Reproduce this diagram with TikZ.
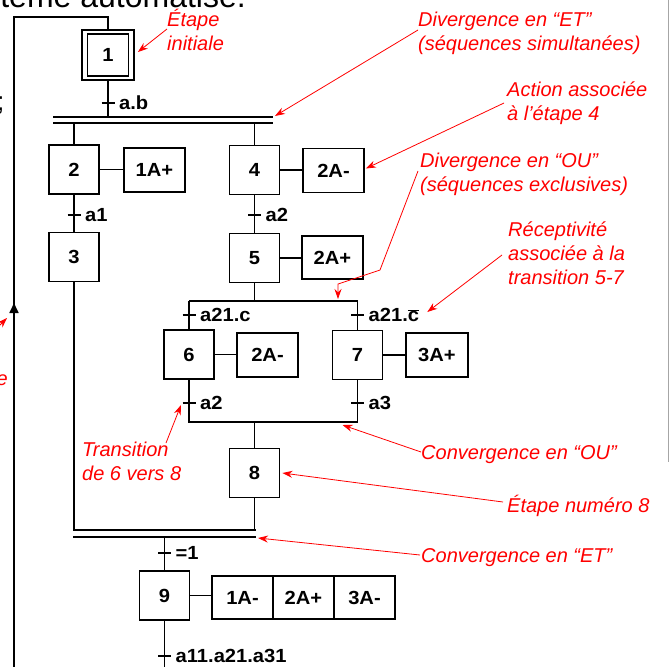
\documentclass[tikz,border=0pt]{standalone}
\usepackage{fontspec}
\setmainfont{Liberation Sans}
\newfontfamily\labfont{Liberation Sans}[FakeStretch=1.06]
\usetikzlibrary{arrows.meta,calc}
\definecolor{annot}{RGB}{255,0,0}
\newcommand\labsize{\labfont\bfseries\fontsize{19}{22}\selectfont}
\newcommand\notesize{\itshape\fontsize{20}{24}\selectfont}

\begin{document}
\begin{tikzpicture}[x=1pt,y=-1pt,
  wire/.style={line width=1.7pt},
  stepbox/.style={draw, line width=1.8pt, minimum width=50pt, minimum height=49pt, inner sep=0pt, font=\labsize},
  actbox/.style={draw, line width=1.8pt, minimum width=61pt, minimum height=44pt, inner sep=0pt, font=\labsize},
  cond/.style={anchor=west, inner sep=0pt, font=\labsize},
  note/.style={anchor=base west, inner sep=0pt, text=annot, font=\notesize, align=left},
  pointer/.style={draw=annot, line width=0.8pt, -{Stealth[length=10pt,width=7pt]}},
  ticklen/.style={line width=1.7pt}]
\useasboundingbox (0,0) rectangle (670,667);
\clip (0,0) rectangle (670,667);

% ---------- surrounding page text ----------
\node[anchor=base east, inner sep=0pt, font=\fontsize{32}{36}\selectfont] (pagetitle) at (246,7) {tème automatisé.};
\node[anchor=base west, inner sep=0pt, font=\fontsize{26}{30}\selectfont] (semi) at (-3,110) {;};
\node[anchor=base east, inner sep=0pt, text=annot, font=\notesize] (frag) at (8,385) {e};
\coordinate (fragA) at (-6,331);
\coordinate (fragB) at (7,318);
\draw[pointer] (fragA) -- (fragB);
\coordinate (frameT) at (668,0);
\coordinate (frameB) at (668,462);
\draw[gray!70, line width=1pt] (frameT) -- (frameB);

% ---------- steps ----------
\node[stepbox, minimum width=41pt, minimum height=42pt] (s1) at (108,55) {1};
\node[draw, line width=1.8pt, minimum width=52pt, minimum height=50pt, inner sep=0pt] (s1o) at (108,55) {};
\node[stepbox] (s2) at (74,169.5) {2};
\node[stepbox] (s3) at (74,257) {3};
\node[stepbox] (s4) at (254.5,170) {4};
\node[stepbox] (s5) at (254.5,258) {5};
\node[stepbox] (s6) at (189,354.5) {6};
\node[stepbox] (s7) at (357.5,355) {7};
\node[stepbox] (s8) at (254.5,473) {8};
\node[stepbox] (s9) at (164.5,595.5) {9};

% ---------- actions ----------
\node[actbox] (act2) at (154.5,170) {1A+};
\node[actbox] (act4) at (333.5,170.5) {2A-};
\node[actbox, minimum height=43pt] (act5) at (332.5,257.5) {2A+};
\node[actbox] (act6) at (267.5,355) {2A-};
\node[actbox, minimum width=62pt] (act7) at (437,355) {3A+};
\node[actbox, minimum height=43pt] (act9a) at (242.5,597.5) {1A-};
\node[actbox, minimum height=43pt] (act9b) at (303.5,597.5) {2A+};
\node[actbox, minimum height=43pt] (act9c) at (364.5,597.5) {3A-};

\foreach \s/\a in {s2/act2, s4/act4, s5/act5, s6/act6, s7/act7, s9/act9a}
  \draw[wire] (\s.east) -- (\a.west |- \s.east);

% ---------- loop back to the initial step ----------
\coordinate (loopB) at (14,667);
\coordinate (loopL) at (14,17);
\coordinate (loopR) at (108,17);
\draw[wire] (loopB) -- (loopL) -- (loopR) -- (s1o.north);
\coordinate (upA) at (14,330);
\coordinate (upB) at (14,303);
\draw[wire, -{Triangle[length=10pt,width=9pt]}] (upA) -- (upB);

% ---------- AND divergence ----------
\coordinate (and1L) at (53,117);
\coordinate (and1R) at (273,117);
\coordinate (and2L) at (53,123);
\coordinate (and2R) at (273,123);
\draw[wire] (and1L) -- (and1R);
\draw[wire] (and2L) -- (and2R);
\draw[wire] (s1o.south) -- (s1o.south |- and1L);
\draw[wire] (s2.north |- and2L) -- (s2.north);
\draw[wire] (s4.north |- and2L) -- (s4.north);

% ---------- sequences ----------
\draw[wire] (s2.south) -- (s3.north);
\draw[wire] (s4.south) -- (s5.north);

% ---------- OR divergence / convergence ----------
\coordinate (orTL) at (189,301);
\coordinate (orTR) at (357.5,301);
\coordinate (orBL) at (189,422);
\coordinate (orBR) at (357.5,422);
\draw[wire] (orTL) -- (orTR);
\draw[wire] (s5.south) -- (s5.south |- orTL);
\draw[wire] (orTL) -- (s6.north);
\draw[wire] (orTR) -- (s7.north);
\draw[wire] (s6.south) -- (orBL) -- (orBR) -- (s7.south);
\draw[wire] (s8.north |- orBL) -- (s8.north);

% ---------- AND convergence ----------
\coordinate (and3L) at (73,530);
\coordinate (and3R) at (256,530);
\coordinate (and4L) at (73,537);
\coordinate (and4R) at (256,537);
\draw[wire] (s3.south) -- (s3.south |- and3L) -- (and3R);
\draw[wire] (s8.south) -- (s8.south |- and3L);
\draw[wire] (and4L) -- (and4R);
\draw[wire] (s9.north |- and4L) -- (s9.north);
\coordinate (exit9) at (164.5,667);
\draw[wire] (s9.south) -- (exit9);

% ---------- transitions ----------
\foreach \x/\y/\c [count=\i] in {108/103/{a.b}, 74/215/{a1}, 254.5/215/{a2},
    189/315/{a21.c}, 357.5/315/{a21.$\overline{\mbox{c}}$},
    189/403/{a2}, 357.5/403/{a3}, 164.5/553/{=1}, 164.5/656/{a11.a21.a31}} {
  \draw[ticklen] (\x-6.5,\y) -- (\x+6.5,\y);
  \node[cond] (cond\i) at (\x+11,\y) {\c};
}

% ---------- annotations (base = baseline of the last line) ----------
\node[note] (nInit) at (167,50) {Étape\\initiale};
\node[note] (nDivET) at (418,50) {Divergence en “ET”\\(séquences simultanées)};
\node[note] (nAct) at (507,120) {Action associée\\à l’étape 4};
\node[note] (nDivOU) at (420,191) {Divergence en “OU”\\(séquences exclusives)};
\node[note] (nRec) at (508,284) {Réceptivité\\associée à la\\transition 5-7};
\node[note] (nConvOU) at (421,459) {Convergence en “OU”};
\node[note] (nStep8) at (507,512) {Étape numéro 8};
\node[note] (nConvET) at (421,562) {Convergence en “ET”};
\node[note] (nTrans) at (82,480) {Transition\\de 6 vers 8};

\coordinate (pInit) at (167,29);
\coordinate (pDivET) at (418,30);
\coordinate (pAct) at (504,103);
\coordinate (pDivOU) at (418,171);
\coordinate (kDivOU1) at (380,270);
\coordinate (kDivOU2) at (338,284);
\coordinate (pRec) at (502,255);
\coordinate (pConvOU) at (421,452);
\coordinate (pStep8) at (503,502);
\coordinate (pConvET) at (420,555);
\coordinate (pTrans) at (166,443);

\draw[pointer] (pInit) -- ($(s1o.east)+(3,-3)$);
\draw[pointer] (pDivET) -- ($(and1R)+(2,-1)$);
\draw[pointer] (pAct) -- ($(act4.east)+(1,-2)$);
\draw[pointer] (pDivOU) -- (kDivOU1) -- (kDivOU2) -- ($(kDivOU2 |- orTL)+(0,-2)$);
\draw[pointer] (pRec) -- ($(cond5.east)+(8,-3)$);
\draw[pointer] (pConvOU) -- ($(orBR)+(-15,3)$);
\draw[pointer] (pStep8) -- ($(s8.east)+(2,0)$);
\draw[pointer] (pConvET) -- ($(and4R)+(2,1)$);
\draw[pointer] (pTrans) -- ($(cond6.west)+(-19,2)$);
\end{tikzpicture}
\end{document}
